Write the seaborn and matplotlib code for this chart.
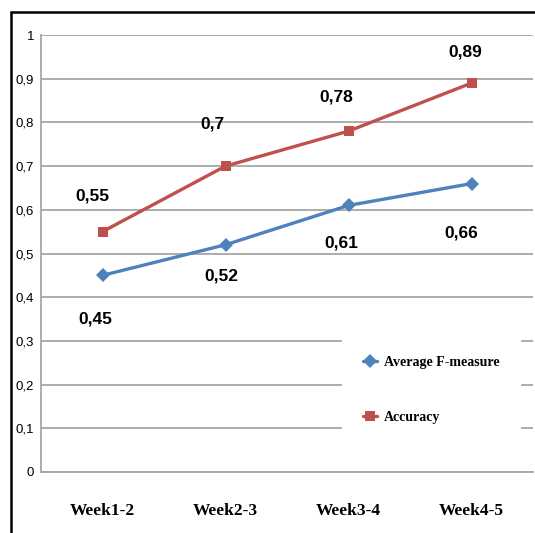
import matplotlib
matplotlib.use("Agg")
import matplotlib.pyplot as plt
from matplotlib.lines import Line2D
import pandas as pd
import seaborn as sns

weeks = ["Week1-2", "Week2-3", "Week3-4", "Week4-5"]
f_measure = [0.45, 0.52, 0.61, 0.66]
accuracy = [0.55, 0.70, 0.78, 0.89]
series_names = ["Average F-measure", "Accuracy"]
y_ticks = [0, 0.1, 0.2, 0.3, 0.4, 0.5, 0.6, 0.7, 0.8, 0.9, 1]

df = pd.DataFrame({
    "week": weeks * 2,
    "value": f_measure + accuracy,
    "series": [series_names[0]] * len(weeks) + [series_names[1]] * len(weeks),
})

sns.set_style("white")
sans = ["Liberation Sans", "DejaVu Sans"]
serif = ["Liberation Serif", "DejaVu Serif"]

fig = plt.figure(figsize=(5.35, 5.33), dpi=100)
ax = fig.add_axes([41 / 535, 61 / 533, 492 / 535, 437 / 533])

colors = {series_names[0]: "#4F81BD", series_names[1]: "#C0504D"}
sns.lineplot(data=df, x="week", y="value", hue="series", style="series",
             markers={series_names[0]: "D", series_names[1]: "s"},
             dashes=False, palette=colors, linewidth=2.4, markersize=7,
             markeredgewidth=0, sort=False, ax=ax)

ax.set_xlim(-0.5, 3.5)
ax.set_ylim(0, 1)
ax.set_yticks(y_ticks)
ax.set_yticklabels([f"{t:g}".replace(".", ",") for t in y_ticks],
                   family=sans, fontsize=9.5, color="black")
ax.set_xticks(range(len(weeks)))
ax.set_xticklabels(weeks, family=serif, fontweight="bold", fontsize=12.5,
                   color="black")
ax.tick_params(axis="both", length=0)
ax.tick_params(axis="y", pad=5)
ax.tick_params(axis="x", pad=22)
ax.set_xlabel("")
ax.set_ylabel("")
ax.grid(axis="y", color="#a6a6a6", linewidth=1.3)
ax.set_axisbelow(True)
for side in ["top", "right"]:
    ax.spines[side].set_visible(False)
for side in ["left", "bottom"]:
    ax.spines[side].set_color("#a6a6a6")
    ax.spines[side].set_linewidth(1.3)

# value labels (pixel offsets)
acc_off = [(-10, 36), (-13, 42), (-12, 34), (-6, 31)]
f_off = [(-7, -44), (-4, -31), (-7, -38), (-10, -49)]
for vals, offs in [(accuracy, acc_off), (f_measure, f_off)]:
    for i, (v, off) in enumerate(zip(vals, offs)):
        ax.annotate(f"{v:g}".replace(".", ","), xy=(i, v), xytext=off,
                    textcoords="offset pixels", ha="center", va="center",
                    family=sans, fontweight="bold", fontsize=12.5,
                    color="black")

leg = ax.legend(loc="upper left", bbox_to_anchor=(0.612, 0.313),
                borderaxespad=0, frameon=True, handlelength=1.0,
                handletextpad=0.5, labelspacing=3.0, borderpad=1.5,
                prop={"family": serif, "weight": "bold", "size": 10})
leg.get_frame().set_facecolor("white")
leg.get_frame().set_edgecolor("white")
leg.get_frame().set_alpha(1)
for t in leg.get_texts():
    t.set_color("black")

# outer black frame (left and top edges of the original figure box)
fig.add_artist(Line2D([11 / 535, 11 / 535], [0, 1 - 12 / 533],
                      transform=fig.transFigure, color="black", linewidth=1.8))
fig.add_artist(Line2D([11 / 535, 1], [1 - 12 / 533, 1 - 12 / 533],
                      transform=fig.transFigure, color="black", linewidth=1.8))

fig.savefig("out.png", dpi=100, facecolor="white")
